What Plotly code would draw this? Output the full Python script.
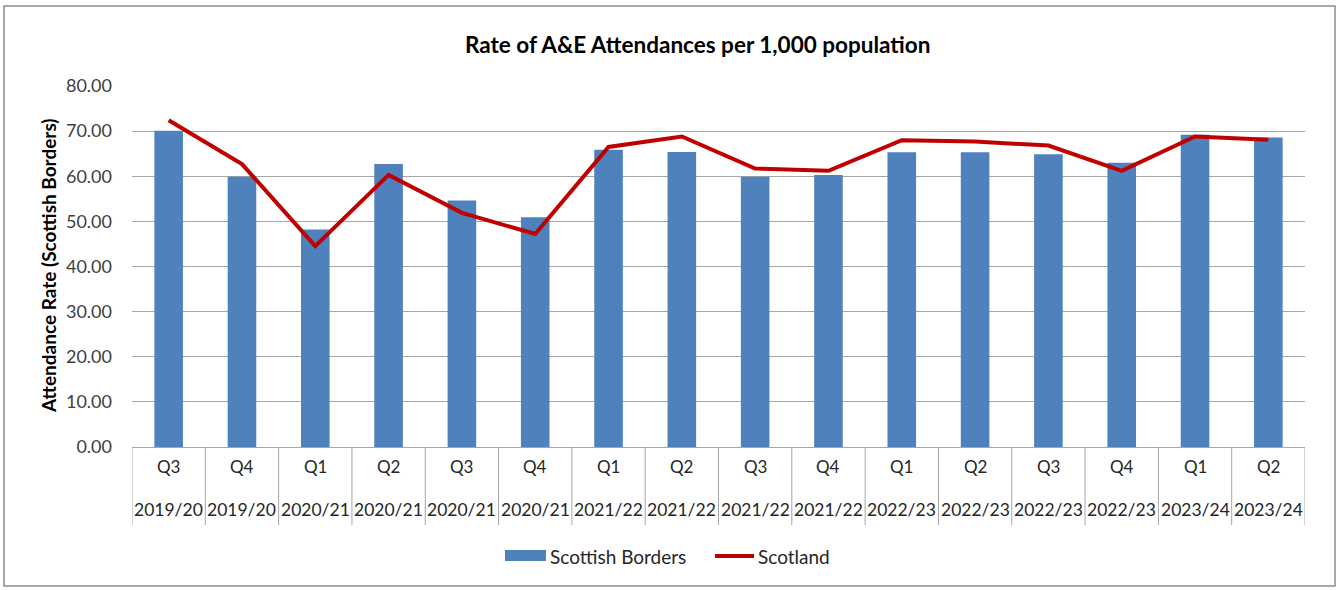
import plotly.graph_objects as go

# Quarterly A&E attendance rates per 1,000 population
quarters = ["Q3", "Q4", "Q1", "Q2", "Q3", "Q4", "Q1", "Q2",
            "Q3", "Q4", "Q1", "Q2", "Q3", "Q4", "Q1", "Q2"]
years = ["2019/20", "2019/20", "2020/21", "2020/21", "2020/21", "2020/21",
         "2021/22", "2021/22", "2021/22", "2021/22", "2022/23", "2022/23",
         "2022/23", "2022/23", "2023/24", "2023/24"]
borders = [70.1, 59.9, 48.2, 62.7, 54.6, 50.9, 65.9, 65.4,
           59.9, 60.3, 65.3, 65.3, 64.9, 63.0, 69.2, 68.6]
scotland = [72.4, 62.7, 44.5, 60.3, 51.9, 47.2, 66.5, 68.8,
            61.7, 61.2, 68.0, 67.7, 66.8, 61.2, 68.8, 68.1]
y_ticks = [0, 10, 20, 30, 40, 50, 60, 70, 80]

W, H = 1339, 590
L, R, T, B = 132, 34, 86, 143
PW, PH = W - L - R, H - T - B

FONT = "Lato"
BAR_COLOR = "#4F81BD"
LINE_COLOR = "#C00000"
GRID = "#A6A6A6"
TEXT = "#262626"


def px(x):
    return (x - L) / PW


def py(y):
    return (H - B - y) / PH


def label(x, y, text, size, xref="paper", xanchor="center", **kw):
    return dict(x=x, y=y, xref=xref, yref="paper", text=text,
                showarrow=False, xanchor=xanchor, yanchor="middle",
                font=dict(family=FONT, size=size, color=kw.pop("color", TEXT)),
                **kw)


xs = list(range(len(quarters)))

fig = go.Figure()
fig.add_trace(go.Bar(x=xs, y=borders, name="Scottish Borders",
                     marker=dict(color=BAR_COLOR, line=dict(width=0)),
                     width=0.39, showlegend=False))
fig.add_trace(go.Scatter(x=xs, y=scotland, name="Scotland", mode="lines",
                         line=dict(color=LINE_COLOR, width=4),
                         showlegend=False))

shapes = []
annotations = []

# category dividers below the plot area
for i in range(len(xs) + 1):
    shapes.append(dict(type="line", xref="x", yref="paper",
                       x0=i - 0.5, x1=i - 0.5, y0=py(447), y1=py(525),
                       line=dict(color=GRID, width=1)))

# two-level category labels
for i, (q, yr) in enumerate(zip(quarters, years)):
    annotations.append(label(i, py(467), q, 17, xref="x"))
    annotations.append(label(i, py(510), yr, 17.5, xref="x"))

# title and y-axis title
annotations.append(label(px(697), py(44),
                         "<b>Rate of A&E Attendances per 1,000 population</b>",
                         22.5, color="#000"))
annotations.append(label(px(48), py(266),
                         "<b>Attendance Rate (Scottish Borders)</b>",
                         19, textangle=-90, color="#000"))

# legend
shapes.append(dict(type="rect", xref="paper", yref="paper",
                   x0=px(505), x1=px(546), y0=py(550), y1=py(561),
                   fillcolor=BAR_COLOR, line=dict(width=0)))
annotations.append(label(px(548), py(556), "Scottish Borders", 19,
                         xanchor="left"))
shapes.append(dict(type="line", xref="paper", yref="paper",
                   x0=px(715), x1=px(754), y0=py(556), y1=py(556),
                   line=dict(color=LINE_COLOR, width=4)))
annotations.append(label(px(756), py(556), "Scotland", 19, xanchor="left"))

# outer chart border
shapes.append(dict(type="rect", xref="paper", yref="paper",
                   x0=px(4), x1=px(1335), y0=py(6), y1=py(586),
                   line=dict(color="#8C8C8C", width=1.5),
                   fillcolor="rgba(0,0,0,0)", layer="below"))

fig.update_layout(
    width=W, height=H,
    margin=dict(l=L, r=R, t=T, b=B),
    paper_bgcolor="white", plot_bgcolor="white",
    shapes=shapes, annotations=annotations,
    xaxis=dict(range=[-0.5, len(xs) - 0.5], showticklabels=False,
               showgrid=False, zeroline=False, showline=True,
               linecolor=GRID, linewidth=1, ticks=""),
    yaxis=dict(range=[0, 80], tickvals=y_ticks,
               ticktext=[f"{v:.2f}" for v in y_ticks],
               showgrid=True, gridcolor=GRID, gridwidth=1,
               zeroline=False, showline=False, ticks="",
               ticklabelstandoff=19,
               tickfont=dict(family=FONT, size=18, color="#404040")),
    bargap=0.6,
)

fig.write_html("out.html")
